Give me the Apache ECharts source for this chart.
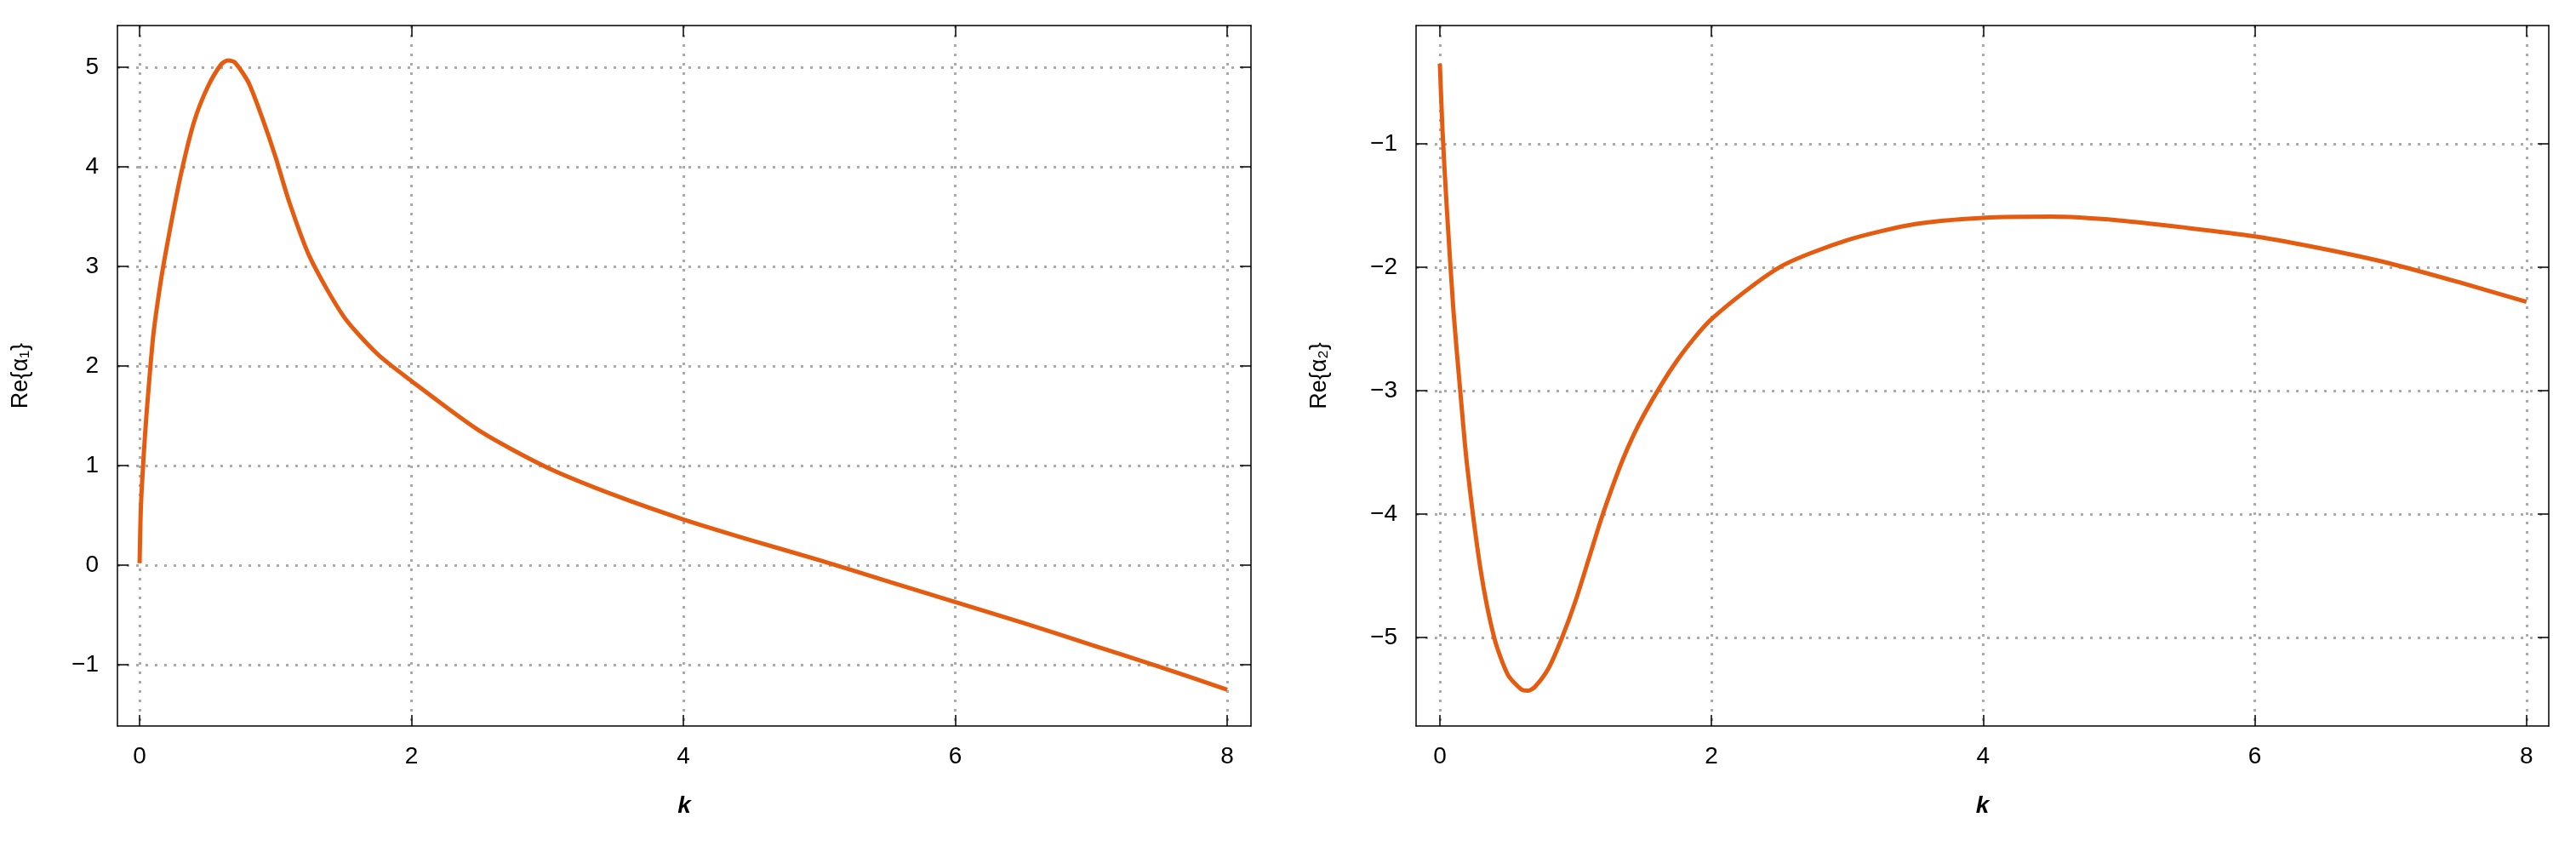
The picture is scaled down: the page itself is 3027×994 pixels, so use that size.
<!DOCTYPE html>
<html>
<head>
<meta charset="utf-8">
<script src="https://cdn.jsdelivr.net/npm/echarts@6/dist/echarts.min.js"></script>
<style>html,body{margin:0;background:#fff}#c{width:3027px;height:994px}</style>
</head>
<body>
<div id="c"></div>
<script>
// k samples and the two curves
var k1 = [0, 0.01, 0.03, 0.05, 0.1, 0.15, 0.2, 0.3, 0.4, 0.5, 0.6, 0.65, 0.7, 0.8, 0.9, 1.0, 1.1, 1.25, 1.5, 1.75, 2.0, 2.5, 3.0, 3.5, 4.0, 4.5, 5.0, 5.5, 6.0, 6.5, 7.0, 7.5, 8.0];
var re1 = [0.02, 0.6, 1.1, 1.5, 2.3, 2.8, 3.2, 3.9, 4.45, 4.8, 5.03, 5.07, 5.05, 4.85, 4.5, 4.1, 3.65, 3.1, 2.5, 2.12, 1.85, 1.35, 0.98, 0.7, 0.46, 0.25, 0.05, -0.16, -0.37, -0.58, -0.8, -1.02, -1.25];
var k2 = [0, 0.02, 0.05, 0.1, 0.15, 0.2, 0.3, 0.4, 0.5, 0.6, 0.65, 0.7, 0.8, 0.9, 1.0, 1.1, 1.2, 1.35, 1.5, 1.75, 2.0, 2.5, 3.0, 3.5, 4.0, 4.5, 5.0, 5.5, 6.0, 6.5, 7.0, 7.5, 8.0];
var re2 = [-0.35, -0.9, -1.5, -2.35, -3.0, -3.6, -4.45, -5.0, -5.3, -5.42, -5.43, -5.4, -5.25, -5.0, -4.7, -4.35, -4.0, -3.55, -3.2, -2.75, -2.42, -2.0, -1.78, -1.65, -1.6, -1.59, -1.62, -1.68, -1.75, -1.85, -1.97, -2.12, -2.28];
var xTicks = [0, 2, 4, 6, 8];
var y1Ticks = [-1, 0, 1, 2, 3, 4, 5];
var y2Ticks = [-5, -4, -3, -2, -1];

var fontFam = "Liberation Sans";
var orange = "#e55b0f";

function pairs(xs, ys) {
  return xs.map(function (x, i) { return [x, ys[i]]; });
}

function xAxis(idx, pos, min, max, show) {
  return {
    type: "value", gridIndex: idx, position: pos, min: min, max: max,
    axisLine: { show: true, onZero: false, lineStyle: { color: "#000", width: 1.5 } },
    axisTick: { show: true, inside: true, length: 13, lineStyle: { color: "#000", width: 1.5 },
      customValues: xTicks },
    minorTick: { show: false },
    axisLabel: { show: show, customValues: xTicks, fontFamily: fontFam, fontSize: 28, color: "#000", margin: 22 },
    splitLine: { show: show, lineStyle: { color: "#aaa", type: [3, 8], width: 3 } },
    name: show ? "k" : "", nameLocation: "middle", nameGap: 80,
    nameTextStyle: { fontFamily: fontFam, fontSize: 28, fontWeight: "bold", fontStyle: "italic", color: "#000" }
  };
}

function yAxis(idx, pos, min, max, show, name, ticks) {
  return {
    type: "value", gridIndex: idx, position: pos, min: min, max: max,
    axisLine: { show: true, onZero: false, lineStyle: { color: "#000", width: 1.5 } },
    axisTick: { show: true, inside: true, length: 13, lineStyle: { color: "#000", width: 1.5 },
      customValues: ticks },
    axisLabel: { show: show, customValues: ticks, fontFamily: fontFam, fontSize: 28, color: "#000", margin: 22,
      formatter: function (v) { return String(Math.round(v)).replace("-", "\u2212"); } },
    splitLine: { show: show, lineStyle: { color: "#aaa", type: [3, 8], width: 3 } },
    name: show ? name : "", nameLocation: "middle", nameGap: show ? 100 : 0,
    nameTextStyle: { fontFamily: fontFam, fontSize: 27, color: "#000" }
  };
}

var chart = echarts.init(document.getElementById("c"));
chart.setOption({
  animation: false,
  grid: [
    { left: 138, right: 1557, top: 30, bottom: 141 },
    { left: 1664, right: 32, top: 30, bottom: 141 }
  ],
  xAxis: [
    xAxis(0, "bottom", -0.163, 8.175, true),
    xAxis(0, "top", -0.163, 8.175, false),
    xAxis(1, "bottom", -0.175, 8.164, true),
    xAxis(1, "top", -0.175, 8.164, false)
  ],
  yAxis: [
    yAxis(0, "left", -1.615, 5.42, true, "Re{\u03b1\u2081}", y1Ticks),
    yAxis(0, "right", -1.615, 5.42, false, "", y1Ticks),
    yAxis(1, "left", -5.717, -0.041, true, "Re{\u03b1\u2082}", y2Ticks),
    yAxis(1, "right", -5.717, -0.041, false, "", y2Ticks)
  ],
  series: [
    { type: "line", xAxisIndex: 0, yAxisIndex: 0, data: pairs(k1, re1), smooth: 0.25,
      showSymbol: false, lineStyle: { color: orange, width: 5 } },
    { type: "line", xAxisIndex: 2, yAxisIndex: 2, data: pairs(k2, re2), smooth: 0.25,
      showSymbol: false, lineStyle: { color: orange, width: 5 } }
  ]
});
</script>
</body>
</html>
